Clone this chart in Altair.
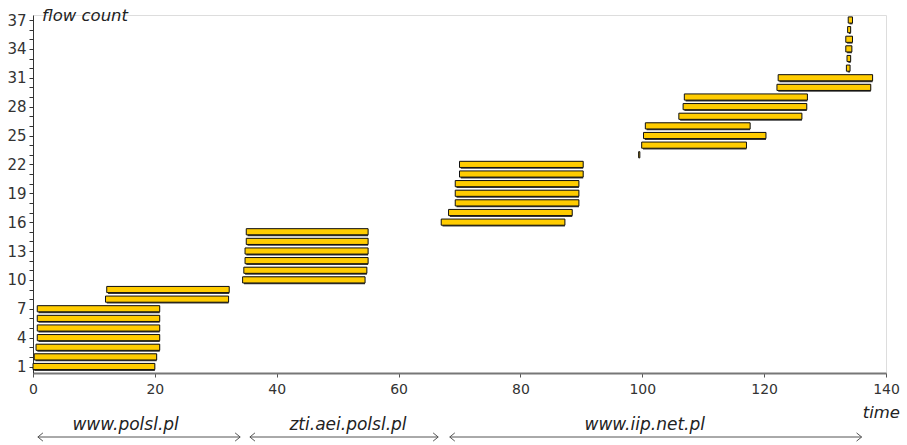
import altair as alt
import pandas as pd

# ---- data ----
flows = list(range(1, 38))
starts = [0.0, 0.2, 0.5, 0.7, 0.7, 0.7, 0.7, 11.9, 12.1,
          34.4, 34.6, 34.8, 34.8, 35.0, 35.0,
          67.0, 68.2, 69.3, 69.3, 69.3, 70.0, 70.0,
          99.4, 99.9, 100.2, 100.5, 106.0, 106.7, 106.9, 122.1, 122.3,
          133.5, 133.6, 133.4, 133.4, 133.7, 133.8]
ends = [20.0, 20.3, 20.8, 20.8, 20.8, 20.8, 20.8, 32.1, 32.2,
        54.5, 54.8, 55.0, 55.0, 55.0, 55.0,
        87.3, 88.5, 89.6, 89.6, 89.6, 90.3, 90.3,
        99.6, 117.1, 120.3, 117.7, 126.2, 127.0, 127.1, 137.5, 137.8,
        134.1, 134.2, 134.4, 134.5, 134.2, 134.5]

hosts = ["www.polsl.pl", "zti.aei.polsl.pl", "www.iip.net.pl"]
host_from = [0.8, 35.6, 68.4]
host_to = [34.0, 66.5, 136.0]
host_label_x = [15.2, 51.7, 100.4]

x_ticks = [0, 20, 40, 60, 80, 100, 120, 140]
y_ticks = list(range(1, 38))

flows_df = pd.DataFrame({"flow": flows, "start": starts, "end": ends})
hosts_df = pd.DataFrame({"host": hosts, "a": host_from, "b": host_to, "lx": host_label_x})

W, H = 853, 358
FONT = "DejaVu Sans"

xscale = alt.Scale(domain=[0, 140], nice=False, zero=False)
yscale = alt.Scale(domain=[0.325, 37.52], nice=False, zero=False)

x_axis = alt.Axis(values=x_ticks, tickCount=20, format="d", title=None, grid=False,
                  labelFlush=False,
                  domainColor="#777777", domainWidth=2, tickColor="#555555",
                  tickSize=4, labelFont=FONT, labelFontSize=14, labelColor="#333333",
                  labelPadding=5)
y_axis = alt.Axis(values=y_ticks, tickCount=100, format="d", title=None, grid=False,
                  labelOverlap=False,
                  labelExpr="(datum.value - 1) % 3 == 0 ? datum.label : ''",
                  domainColor="#333333", domainWidth=1, tickColor="#333333",
                  tickSize=4, labelFont=FONT, labelFontSize=15, labelColor="#333333",
                  labelPadding=3)

base = alt.Chart(flows_df).transform_calculate(
    y0="datum.flow - 0.32", y1="datum.flow + 0.32"
)

shadow = base.mark_rect(color="#3a3a3a", xOffset=1.3, yOffset=1.3).encode(
    x=alt.X("start:Q", scale=xscale, axis=x_axis),
    x2="end:Q",
    y=alt.Y("y0:Q", scale=yscale, axis=y_axis),
    y2="y1:Q",
)

bars = base.mark_rect(color="#FFCC00", stroke="#111111", strokeWidth=1).encode(
    x=alt.X("start:Q", scale=xscale, axis=x_axis),
    x2="end:Q",
    y=alt.Y("y0:Q", scale=yscale, axis=y_axis),
    y2="y1:Q",
)

arrow_y = 422
arrows = alt.Chart(hosts_df).mark_rule(color="#555555", strokeWidth=1).encode(
    x=alt.X("a:Q", scale=xscale),
    x2="b:Q",
    y=alt.value(arrow_y),
)
head_left = alt.Chart(hosts_df).mark_point(
    shape="M1.6,-1.3L0,0L1.6,1.3", size=40, filled=False, color="#555555",
    strokeWidth=1, opacity=1
).encode(x=alt.X("a:Q", scale=xscale), y=alt.value(arrow_y))
head_right = alt.Chart(hosts_df).mark_point(
    shape="M-1.6,-1.3L0,0L-1.6,1.3", size=40, filled=False, color="#555555",
    strokeWidth=1, opacity=1
).encode(x=alt.X("b:Q", scale=xscale), y=alt.value(arrow_y))

host_text = alt.Chart(hosts_df).mark_text(
    font=FONT, fontSize=17, fontStyle="italic", color="#222222", baseline="middle"
).encode(x=alt.X("lx:Q", scale=xscale), y=alt.value(410), text="host:N")

title_y = alt.Chart(pd.DataFrame({"t": ["flow count"]})).mark_text(
    font=FONT, fontSize=16.5, fontStyle="italic", color="#222222",
    align="left", baseline="middle"
).encode(x=alt.value(9), y=alt.value(1), text="t:N")

title_x = alt.Chart(pd.DataFrame({"t": ["time"]})).mark_text(
    font=FONT, fontSize=16.5, fontStyle="italic", color="#222222",
    align="right", baseline="middle"
).encode(x=alt.value(867), y=alt.value(398), text="t:N")

chart = alt.layer(
    shadow, bars, arrows, head_left, head_right, host_text, title_y, title_x
).properties(
    width=W, height=H,
    autosize=alt.AutoSizeParams(type="none"),
    padding={"left": 33, "top": 15, "right": 21, "bottom": 72},
).configure_view(stroke=None).configure(background="white")

chart.save("out.html", embed_options={"renderer": "svg", "actions": False})
